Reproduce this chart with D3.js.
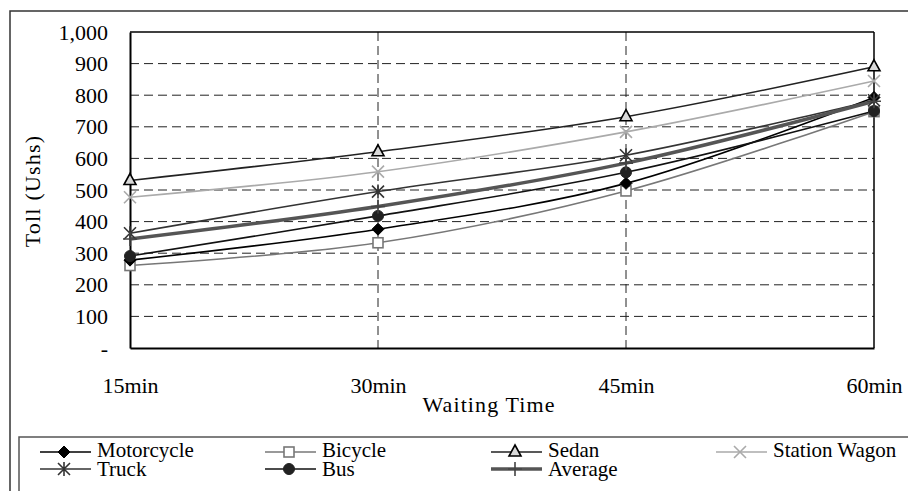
<!DOCTYPE html>
<html>
<head>
<meta charset="utf-8">
<script src="https://cdn.jsdelivr.net/npm/d3@7"></script>
<style>
  html, body { margin: 0; padding: 0; background: #fff; }
  svg { display: block; }
  text { font-family: "Liberation Serif", "Times New Roman", serif; fill: #000; }
</style>
</head>
<body>
<svg id="chart" width="908" height="491"></svg>
<script>
const categories = ["15min", "30min", "45min", "60min"];
const yTicks = [0, 100, 200, 300, 400, 500, 600, 700, 800, 900, 1000];
const motorcycle = [278, 376, 521, 793];
const bicycle = [261, 333, 497, 748];
const sedan = [530, 621, 732, 890];
const stationWagon = [477, 558, 684, 845];
const truck = [363, 495, 610, 784];
const bus = [291, 418, 556, 750];
const average = [345, 448, 585, 781];
const seriesNames = ["Motorcycle", "Bicycle", "Sedan", "Station Wagon", "Truck", "Bus", "Average"];

const svg = d3.select("#chart");
const plot = { left: 130, right: 874, top: 32, bottom: 348 };

const x = d3.scalePoint().domain(categories).range([plot.left, plot.right]).padding(0);
const y = d3.scaleLinear().domain([0, 1000]).range([plot.bottom, plot.top]);

// outer frame
svg.append("rect").attr("x", 10).attr("y", 11).attr("width", 920).attr("height", 500)
  .attr("fill", "none").attr("stroke", "#333").attr("stroke-width", 1.5);

// gridlines
const g = svg.append("g");
g.selectAll("line.hg").data(yTicks.filter(v => v > 0 && v < 1000)).join("line")
  .attr("x1", plot.left).attr("x2", plot.right)
  .attr("y1", d => y(d)).attr("y2", d => y(d))
  .attr("stroke", "#222").attr("stroke-width", 1).attr("stroke-dasharray", "9,5");
g.selectAll("line.vg").data(categories.slice(1, 3)).join("line")
  .attr("x1", d => x(d)).attr("x2", d => x(d))
  .attr("y1", plot.top).attr("y2", plot.bottom)
  .attr("stroke", "#222").attr("stroke-width", 1).attr("stroke-dasharray", "9,5");

// plot border
svg.append("line").attr("x1", plot.left).attr("x2", plot.right).attr("y1", plot.top).attr("y2", plot.top)
  .attr("stroke", "#000").attr("stroke-width", 1.5);
svg.append("line").attr("x1", plot.right).attr("x2", plot.right).attr("y1", plot.top).attr("y2", plot.bottom)
  .attr("stroke", "#000").attr("stroke-width", 1.5);

// axes
const yAxis = d3.axisLeft(y).tickValues(yTicks).tickSize(0).tickPadding(22)
  .tickFormat(d => d === 0 ? "-" : d3.format(",")(d));
const ya = svg.append("g").attr("transform", `translate(${plot.left},0)`).call(yAxis);
ya.select(".domain").attr("stroke", "#000").attr("stroke-width", 2);
ya.selectAll("text").style("font-family", '"Liberation Serif", serif').style("font-size", "22px").attr("fill", "#000");

const xAxis = d3.axisBottom(x).tickSize(0).tickPadding(29);
const xa = svg.append("g").attr("transform", `translate(0,${plot.bottom})`).call(xAxis);
xa.select(".domain").attr("stroke", "#000").attr("stroke-width", 2);
xa.selectAll("text").style("font-family", '"Liberation Serif", serif').style("font-size", "22px").attr("fill", "#000");

// axis titles
svg.append("text").attr("x", 489).attr("y", 412).attr("text-anchor", "middle")
  .style("font-size", "22px").style("letter-spacing", "1.1px").text("Waiting Time");
svg.append("text").attr("transform", "translate(40,191) rotate(-90)").attr("text-anchor", "middle")
  .style("font-size", "22px").style("letter-spacing", "1.2px").text("Toll (Ushs)");

// series styles
const styles = {
  "Motorcycle": { data: motorcycle, color: "#000", width: 1.6, marker: "diamond", mfill: "#000", mstroke: "#000" },
  "Bicycle": { data: bicycle, color: "#777", width: 1.6, marker: "square", mfill: "#fff", mstroke: "#777" },
  "Sedan": { data: sedan, color: "#222", width: 1.6, marker: "triangle", mfill: "#d9d9d9", mstroke: "#000" },
  "Station Wagon": { data: stationWagon, color: "#aaa", width: 1.6, marker: "x", mfill: "none", mstroke: "#aaa" },
  "Truck": { data: truck, color: "#333", width: 1.6, marker: "asterisk", mfill: "none", mstroke: "#333" },
  "Bus": { data: bus, color: "#111", width: 1.6, marker: "circle", mfill: "#222", mstroke: "#222" },
  "Average": { data: average, color: "#555", width: 3.5, marker: "plus", mfill: "none", mstroke: "#444" }
};

const line = d3.line().x((d, i) => x(categories[i])).y(d => y(d)).curve(d3.curveCardinal.tension(0));

function drawMarker(sel, type, cx, cy, st) {
  const gg = sel.append("g").attr("transform", `translate(${cx},${cy})`);
  if (type === "diamond") {
    gg.append("path").attr("d", "M0,-6L6,0L0,6L-6,0Z").attr("fill", st.mfill).attr("stroke", st.mstroke);
  } else if (type === "square") {
    gg.append("rect").attr("x", -5).attr("y", -5).attr("width", 10).attr("height", 10)
      .attr("fill", st.mfill).attr("stroke", st.mstroke).attr("stroke-width", 1.6);
  } else if (type === "triangle") {
    gg.append("path").attr("d", "M0,-7L6,4L-6,4Z").attr("fill", st.mfill).attr("stroke", st.mstroke).attr("stroke-width", 1.6);
  } else if (type === "x") {
    gg.append("path").attr("d", "M-6,-6L6,6M-6,6L6,-6").attr("stroke", st.mstroke).attr("stroke-width", 1.6);
  } else if (type === "asterisk") {
    gg.append("path").attr("d", "M-6,-6L6,6M-6,6L6,-6M0,-7L0,7").attr("stroke", st.mstroke).attr("stroke-width", 1.6);
  } else if (type === "circle") {
    gg.append("circle").attr("r", 5.5).attr("fill", st.mfill).attr("stroke", st.mstroke);
  } else if (type === "plus") {
    gg.append("path").attr("d", "M-7,0L7,0M0,-7L0,7").attr("stroke", st.mstroke).attr("stroke-width", 1.6);
  }
}

const drawOrder = ["Station Wagon", "Sedan", "Bicycle", "Motorcycle", "Bus", "Truck", "Average"];
const sg = svg.append("g");
drawOrder.forEach(name => {
  const s = styles[name];
  sg.append("path").attr("d", line(s.data)).attr("fill", "none")
    .attr("stroke", s.color).attr("stroke-width", s.width);
});
drawOrder.forEach(name => {
  const s = styles[name];
  s.data.forEach((v, i) => drawMarker(sg, s.marker, x(categories[i]), y(v), s));
});

// legend
svg.append("rect").attr("x", 19).attr("y", 437).attr("width", 920).attr("height", 80)
  .attr("fill", "#fff").attr("stroke", "#555").attr("stroke-width", 1.5);
const legCols = [40, 265, 491, 716];
const legRows = [452, 469];
const legBase = [457, 476];
const lg = svg.append("g");
seriesNames.forEach((name, i) => {
  const s = styles[name];
  const r = Math.floor(i / 4);
  const cx = legCols[i % 4], cy = legRows[r];
  lg.append("line").attr("x1", cx).attr("x2", cx + 51).attr("y1", cy).attr("y2", cy)
    .attr("stroke", s.color).attr("stroke-width", s.width);
  drawMarker(lg, s.marker, cx + 24, cy, s);
  lg.append("text").attr("x", cx + 57).attr("y", legBase[r]).style("font-size", "21px")
    .text(name);
});
</script>
</body>
</html>
